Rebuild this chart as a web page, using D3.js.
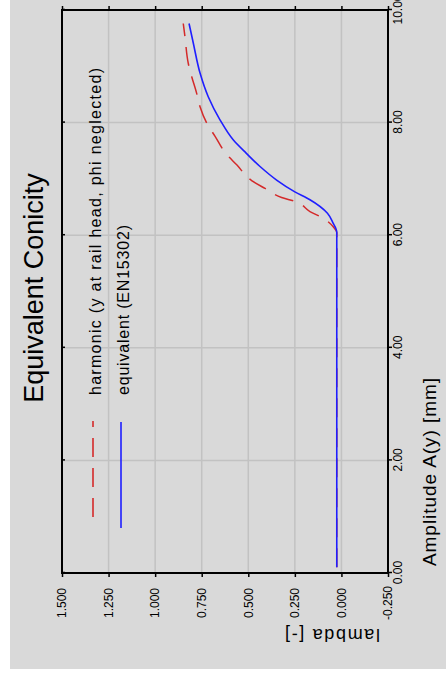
<!DOCTYPE html>
<html>
<head>
<meta charset="utf-8">
<script src="https://cdn.jsdelivr.net/npm/d3@7"></script>
<style>
  html, body { margin: 0; padding: 0; background: #ffffff; }
  svg { display: block; }
  text { font-family: "Liberation Sans", Arial, sans-serif; fill: #000; }
</style>
</head>
<body>
<script>
// Axis ticks
const amplitudeTicks = [0, 2, 4, 6, 8, 10];
const lambdaTicks = [-0.25, 0, 0.25, 0.5, 0.75, 1.0, 1.25, 1.5];

// Harmonic conicity (y at rail head, phi neglected)
const harmonicAmplitude = [0.1, 6.05, 6.15, 6.30, 6.42, 6.60, 6.67, 6.83, 6.97, 7.25, 7.45, 7.76, 7.99, 8.28, 8.52, 8.82, 9.05, 9.53, 9.76];
const harmonicLambda    = [0.025, 0.025, 0.044, 0.097, 0.169, 0.249, 0.321, 0.410, 0.482, 0.562, 0.620, 0.679, 0.723, 0.759, 0.777, 0.804, 0.822, 0.840, 0.849];

// Equivalent conicity (EN15302)
const equivalentAmplitude = [0.1, 6.05, 6.12, 6.21, 6.39, 6.63, 6.77, 6.98, 7.22, 7.45, 7.69, 8.05, 8.46, 8.88, 9.41, 9.76];
const equivalentLambda    = [0.025, 0.025, 0.030, 0.044, 0.075, 0.169, 0.250, 0.348, 0.437, 0.509, 0.580, 0.652, 0.715, 0.759, 0.795, 0.818];

const W = 446, H = 683;
const svg = d3.select("body").append("svg").attr("width", W).attr("height", H);

// The chart is laid out landscape (H wide, W tall) and turned a quarter-turn counter-clockwise.
const g = svg.append("g").attr("transform", `translate(0,${H}) rotate(-90)`);

g.append("rect")
  .attr("x", 14).attr("y", 10)
  .attr("width", H - 14).attr("height", W - 10)
  .attr("fill", "#d9d9d9");

const x = d3.scaleLinear().domain([0, 10]).range([110, 673]);
const y = d3.scaleLinear().domain([-0.25, 1.5]).range([388, 62]);

// Grid
const grid = g.append("g").attr("stroke", "#c2c2c2").attr("stroke-width", 1.5);
grid.selectAll("line.v")
  .data(amplitudeTicks.slice(1, -1))
  .join("line")
  .attr("x1", d => x(d)).attr("x2", d => x(d))
  .attr("y1", y.range()[1]).attr("y2", y.range()[0]);
grid.selectAll("line.h")
  .data(lambdaTicks.slice(1, -1))
  .join("line")
  .attr("x1", x.range()[0]).attr("x2", x.range()[1])
  .attr("y1", d => y(d)).attr("y2", d => y(d));

// Axes
const fmtA = d3.format(".2f");
const fmtL = v => d3.format(".3f")(v).replace("\u2212", "-");

const axB = g.append("g")
  .attr("transform", `translate(0,${y.range()[0]})`)
  .call(d3.axisBottom(x).tickValues(amplitudeTicks).tickSize(4).tickPadding(1).tickFormat(fmtA));
const axL = g.append("g")
  .attr("transform", `translate(${x.range()[0]},0)`)
  .call(d3.axisLeft(y).tickValues(lambdaTicks).tickSize(4).tickFormat(fmtL));
axL.selectAll("text").attr("text-anchor", "middle").attr("x", -30);
const axT = g.append("g")
  .attr("transform", `translate(0,${y.range()[1]})`)
  .call(d3.axisTop(x).tickValues(amplitudeTicks).tickSizeInner(-3).tickSizeOuter(0).tickFormat(""));
const axR = g.append("g")
  .attr("transform", `translate(${x.range()[1]},0)`)
  .call(d3.axisRight(y).tickValues(lambdaTicks).tickSize(4).tickFormat(""));

[axB, axL, axT, axR].forEach(a => {
  a.select(".domain").remove();
  a.selectAll("line").attr("stroke", "#000").attr("stroke-width", 1.5);
  a.selectAll("text").attr("font-family", "Liberation Sans, Arial, sans-serif").attr("font-size", 12).attr("fill", "#000");
});

// Frame
g.append("rect")
  .attr("x", x.range()[0]).attr("y", y.range()[1])
  .attr("width", x.range()[1] - x.range()[0])
  .attr("height", y.range()[0] - y.range()[1])
  .attr("fill", "none").attr("stroke", "#000").attr("stroke-width", 2);

// Curves
const line = d3.line().x(d => x(d[0])).y(d => y(d[1])).curve(d3.curveMonotoneX);
const harmonic = d3.zip(harmonicAmplitude, harmonicLambda);
const equivalent = d3.zip(equivalentAmplitude, equivalentLambda);

g.append("path").datum(harmonic)
  .attr("d", line).attr("fill", "none")
  .attr("stroke", "#d42a2a").attr("stroke-width", 1.5)
  .attr("stroke-dasharray", "19,11");
g.append("path").datum(equivalent)
  .attr("d", line).attr("fill", "none")
  .attr("stroke", "#1f1fff").attr("stroke-width", 1.6);

// Legend
g.append("line")
  .attr("x1", 166).attr("x2", 262).attr("y1", 93).attr("y2", 93)
  .attr("stroke", "#d42a2a").attr("stroke-width", 1.6).attr("stroke-dasharray", "19,11");
g.append("line")
  .attr("x1", 155).attr("x2", 261).attr("y1", 121).attr("y2", 121)
  .attr("stroke", "#1f1fff").attr("stroke-width", 1.6);
g.append("text")
  .attr("x", 288).attr("y", 101)
  .attr("font-size", 16).attr("textLength", 327).attr("lengthAdjust", "spacing")
  .text("harmonic (y at rail head, phi neglected)");
g.append("text")
  .attr("x", 288).attr("y", 129)
  .attr("font-size", 16).attr("textLength", 170).attr("lengthAdjust", "spacing")
  .text("equivalent (EN15302)");

// Title
g.append("text")
  .attr("x", 395).attr("y", 43)
  .attr("text-anchor", "middle")
  .attr("font-size", 27)
  .text("Equivalent Conicity");

// Axis titles
g.append("text")
  .attr("x", 117).attr("y", 436)
  .attr("font-size", 19).attr("textLength", 188).attr("lengthAdjust", "spacing")
  .text("Amplitude A(y) [mm]");
g.append("text")
  .attr("transform", "translate(54,380) rotate(-90)")
  .attr("font-size", 18).attr("textLength", 95).attr("lengthAdjust", "spacing")
  .text("lambda [-]");
</script>
</body>
</html>
